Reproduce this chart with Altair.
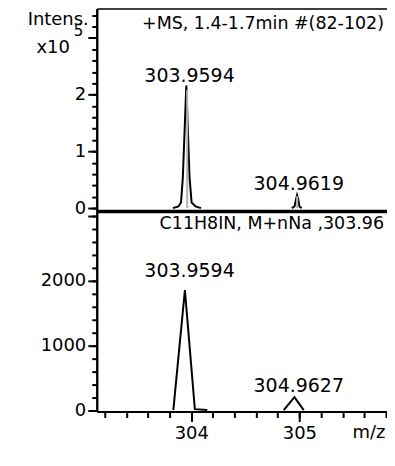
import altair as alt
import pandas as pd

# ---------------- data ----------------
# measured profile, top panel (intensity in counts)
top_peak_id = [1, 1, 1, 1, 1, 1, 1, 1, 1, 2, 2, 2, 2, 2, 2, 2]
top_mz = [303.83, 303.88, 303.905, 303.922, 303.954, 303.984, 304.003, 304.04, 304.09,
          304.93, 304.955, 304.968, 304.978, 304.99, 305.0, 305.02]
top_int = [0, 3000, 10000, 54000, 216000, 54000, 10000, 3000, 0,
           0, 3000, 15000, 23000, 15000, 3000, 0]
top_stick_mz = [303.962, 304.979]
top_stick_int = [208000, 21000]
top_label_text = ["303.9594", "304.9619"]
top_label_mz = [303.984, 304.994]
top_label_int = [222000, 31500]

# simulated pattern, bottom panel
bot_peak_id = [1, 1, 1, 1, 2, 2, 2]
bot_mz = [303.834, 303.941, 304.033, 304.148, 304.855, 304.954, 305.04]
bot_int = [0, 1860, 15, 0, 0, 200, 0]
bot_label_text = ["303.9594", "304.9627"]
bot_label_mz = [303.984, 304.994]
bot_label_int = [2060, 284]

title_top = "+MS, 1.4-1.7min #(82-102)"
title_bottom = "C11H8IN, M+nNa ,303.96"
y_title = ["Intens.", "x10", "5"]
x_title = "m/z"

x_major = [304, 305]
x_minor = [round(303.2 + 0.2 * i, 1) for i in range(14)]
top_y_major = [0, 100000, 200000, 300000]
top_y_minor = [20000 * i for i in range(18)]
bot_y_major = [0, 1000, 2000, 3000]
bot_y_minor = [200 * i for i in range(16)]

# ---------------- layout ----------------
FONT = "DejaVu Sans"
W = 291
H_TOP = 203
H_BOT = 201

top_line_df = pd.DataFrame({"peak": top_peak_id, "mz": top_mz, "i": top_int})
top_stick_df = pd.DataFrame({"mz": top_stick_mz, "i": top_stick_int, "base": [0] * len(top_stick_mz)})
top_lab_df = pd.DataFrame({"t": top_label_text, "mz": top_label_mz, "i": top_label_int})
bot_line_df = pd.DataFrame({"peak": bot_peak_id, "mz": bot_mz, "i": bot_int})
bot_lab_df = pd.DataFrame({"t": bot_label_text, "mz": bot_label_mz, "i": bot_label_int})
one = pd.DataFrame({"a": [0]})

xs = alt.Scale(domain=[303.126, 305.81], nice=False, zero=False)
ys_top = alt.Scale(domain=[-5100, 351700], nice=False, zero=False)
ys_bot = alt.Scale(domain=[-22, 3084], nice=False, zero=False)

common = dict(title=None, grid=False, labelOverlap=False, labelFlush=False)

# ----- top panel -----
top_line = alt.Chart(top_line_df).mark_line(color="black", strokeWidth=2).encode(
    x=alt.X("mz:Q", scale=xs,
            axis=alt.Axis(orient="bottom", ticks=False, labels=False, domainWidth=3.5, **common)),
    y=alt.Y("i:Q", scale=ys_top,
            axis=alt.Axis(orient="left", values=top_y_major, tickSize=9, labelPadding=2,
                          labelExpr="datum.value < 300000 ? format(datum.value / 100000, 'd') : ''",
                          **common)),
    detail="peak:N",
)
top_stick = alt.Chart(top_stick_df).mark_rule(color="#b4b4b4", strokeWidth=2).encode(
    x=alt.X("mz:Q", scale=xs,
            axis=alt.Axis(orient="top", ticks=False, labels=False, domainWidth=1.5, **common)),
    y=alt.Y("i:Q", scale=ys_top,
            axis=alt.Axis(orient="left", values=top_y_minor, tickSize=5, labels=False, **common)),
    y2="base:Q",
)
top_labels = alt.Chart(top_lab_df).mark_text(
    font=FONT, fontSize=19, color="black", align="center", baseline="alphabetic"
).encode(x=alt.X("mz:Q", scale=xs, axis=None), y=alt.Y("i:Q", scale=ys_top, axis=None), text="t:N")
top_title = alt.Chart(one).mark_text(
    font=FONT, fontSize=17.5, color="black", align="right", baseline="alphabetic"
).encode(x=alt.value(W - 3), y=alt.value(20), text=alt.value(title_top))
ytitle1 = alt.Chart(one).mark_text(
    font=FONT, fontSize=18, color="black", align="right", baseline="alphabetic"
).encode(x=alt.value(-8), y=alt.value(16), text=alt.value(y_title[0]))
ytitle2 = alt.Chart(one).mark_text(
    font=FONT, fontSize=18, color="black", align="right", baseline="alphabetic"
).encode(x=alt.value(-27), y=alt.value(45), text=alt.value(y_title[1]))
ytitle3 = alt.Chart(one).mark_text(
    font=FONT, fontSize=15, color="black", align="left", baseline="alphabetic"
).encode(x=alt.value(-23), y=alt.value(27), text=alt.value(y_title[2]))

top = alt.layer(top_line, top_stick, top_labels, top_title, ytitle1, ytitle2, ytitle3).resolve_axis(
    x="independent", y="independent"
).properties(width=W, height=H_TOP)

# ----- bottom panel -----
bot_line = alt.Chart(bot_line_df).mark_line(color="black", strokeWidth=2).encode(
    x=alt.X("mz:Q", scale=xs,
            axis=alt.Axis(orient="bottom", values=x_major, tickSize=10, labelPadding=3,
                          format="d", **common)),
    y=alt.Y("i:Q", scale=ys_bot,
            axis=alt.Axis(orient="left", values=bot_y_major, tickSize=9, labelPadding=2,
                          labelExpr="datum.value < 3000 ? format(datum.value, 'd') : ''",
                          **common)),
    detail="peak:N",
)
bot_minor = alt.Chart(bot_line_df).mark_line(opacity=0).encode(
    x=alt.X("mz:Q", scale=xs,
            axis=alt.Axis(orient="bottom", values=x_minor, tickSize=6, labels=False, **common)),
    y=alt.Y("i:Q", scale=ys_bot,
            axis=alt.Axis(orient="left", values=bot_y_minor, tickSize=5, labels=False, **common)),
    detail="peak:N",
)
bot_labels = alt.Chart(bot_lab_df).mark_text(
    font=FONT, fontSize=19, color="black", align="center", baseline="alphabetic"
).encode(x=alt.X("mz:Q", scale=xs, axis=None), y=alt.Y("i:Q", scale=ys_bot, axis=None), text="t:N")
bot_title = alt.Chart(one).mark_text(
    font=FONT, fontSize=17.5, color="black", align="right", baseline="alphabetic"
).encode(x=alt.value(W - 3), y=alt.value(18), text=alt.value(title_bottom))
xtitle = alt.Chart(one).mark_text(
    font=FONT, fontSize=18, color="black", align="center", baseline="alphabetic"
).encode(x=alt.value(W - 18), y=alt.value(H_BOT + 27), text=alt.value(x_title))

bottom = alt.layer(bot_line, bot_minor, bot_labels, bot_title, xtitle).resolve_axis(
    x="independent", y="independent"
).properties(width=W, height=H_BOT)

chart = alt.vconcat(top, bottom, spacing=0, bounds="flush").properties(
    padding={"left": 19, "top": 0, "right": 0, "bottom": 0}
).configure_view(stroke=None).configure_axis(
    labelFont=FONT, labelFontSize=18, labelColor="black",
    domainColor="black", domainWidth=2, tickColor="black", tickWidth=2,
)

chart.save("out.html", embed_options={"renderer": "svg", "actions": False})
